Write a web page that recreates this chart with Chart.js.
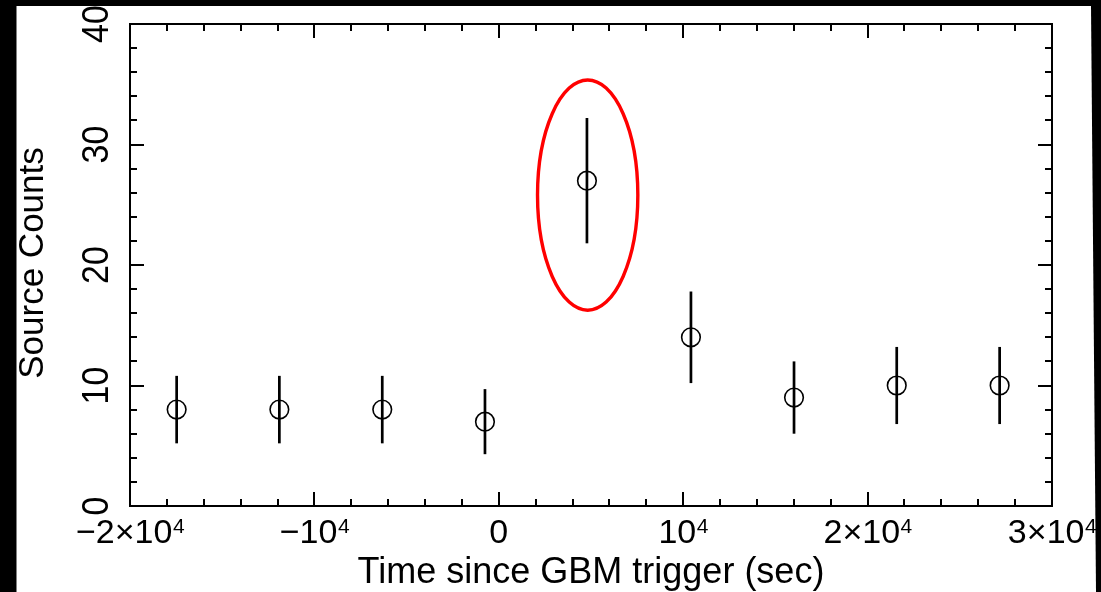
<!DOCTYPE html>
<html>
<head>
<meta charset="utf-8">
<title>Source Counts vs time</title>
<script src="https://cdn.jsdelivr.net/npm/chart.js@4/dist/chart.umd.min.js"></script>
<style>
  html, body { margin: 0; padding: 0; background: #000; }
  #wrap { width: 1101px; height: 592px; }
</style>
</head>
<body>
<div id="wrap"><canvas id="countsChart" width="1101" height="592"></canvas></div>
<script>
// data
const times = [-17470, -11900, -6320, -750, 4780, 10420, 16010, 21580, 27160];
const counts = [8, 8, 8, 7, 27, 14, 9, 10, 10];
const countErrors = [2.8, 2.8, 2.8, 2.7, 5.2, 3.8, 3.0, 3.2, 3.2];

// axes
const xMin = -20000, xMax = 30000, xMinorStep = 2000;
const yMin = 0, yMax = 40, yMinorStep = 2;
const xTicks = [-20000, -10000, 0, 10000, 20000, 30000];
const xTickLabels = [['\u22122\u00d710', '4'], ['\u221210', '4'], ['0', ''], ['10', '4'], ['2\u00d710', '4'], ['3\u00d710', '4']];
const yTicks = [0, 10, 20, 30, 40];
const yTickLabels = ['0', '10', '20', '30', '40'];
const xTitle = 'Time since GBM trigger (sec)';
const yTitle = 'Source Counts';

// red ellipse around the flare bin (data units)
const flareX = 4820, flareY = 25.8, flareHalfX = 2720, flareHalfY = 9.55;

const FONT = '"Liberation Sans", Arial, Helvetica, sans-serif';

const errorBarSets = times.map(function (t, i) {
    return {
        data: [{ x: t, y: counts[i] - countErrors[i] }, { x: t, y: counts[i] + countErrors[i] }],
        showLine: true,
        borderColor: '#000',
        borderWidth: 2.7,
        borderCapStyle: 'butt',
        pointRadius: 0,
        pointHoverRadius: 0
    };
});

const pointSet = {
    data: times.map(function (t, i) { return { x: t, y: counts[i] }; }),
    pointStyle: 'circle',
    pointRadius: 9.3,
    pointHoverRadius: 9.3,
    pointBorderWidth: 1.6,
    pointBorderColor: '#000',
    pointBackgroundColor: 'rgba(0,0,0,0)',
    showLine: false
};

const framePlugin = {
    id: 'frame',
    beforeDraw: function (chart) {
        const ctx = chart.ctx;
        ctx.save();
        ctx.fillStyle = '#000';
        ctx.fillRect(0, 0, chart.width, chart.height);
        ctx.fillStyle = '#fff';
        ctx.beginPath();
        ctx.moveTo(16.5, 6);
        ctx.lineTo(1091, 6);
        ctx.lineTo(1096, 592);
        ctx.lineTo(16.5, 592);
        ctx.closePath();
        ctx.fill();
        ctx.restore();
    },
    afterDatasetsDraw: function (chart) {
        const ctx = chart.ctx;
        const xs = chart.scales.x, ys = chart.scales.y;
        const cx = xs.getPixelForValue(flareX), cy = ys.getPixelForValue(flareY);
        const rx = Math.abs(xs.getPixelForValue(flareX + flareHalfX) - cx);
        const ry = Math.abs(ys.getPixelForValue(flareY + flareHalfY) - cy);
        ctx.save();
        ctx.strokeStyle = '#ff0000';
        ctx.lineWidth = 3.4;
        ctx.beginPath();
        ctx.ellipse(cx, cy, rx, ry, 0, 0, Math.PI * 2);
        ctx.stroke();
        ctx.restore();
    },
    afterDraw: function (chart) {
        const ctx = chart.ctx;
        const a = chart.chartArea;
        const xs = chart.scales.x, ys = chart.scales.y;
        ctx.save();
        ctx.strokeStyle = '#000';
        ctx.lineWidth = 2;
        ctx.strokeRect(a.left, a.top, a.right - a.left, a.bottom - a.top);

        // inward ticks on all four sides
        ctx.beginPath();
        for (let v = xMin; v <= xMax; v += xMinorStep) {
            const px = Math.round(xs.getPixelForValue(v));
            const len = v % 10000 === 0 ? 14 : 7;
            ctx.moveTo(px, a.bottom); ctx.lineTo(px, a.bottom - len);
            ctx.moveTo(px, a.top); ctx.lineTo(px, a.top + len);
        }
        for (let v = yMin; v <= yMax; v += yMinorStep) {
            const py = Math.round(ys.getPixelForValue(v));
            const len = v % 10 === 0 ? 14 : 7;
            ctx.moveTo(a.left, py); ctx.lineTo(a.left + len, py);
            ctx.moveTo(a.right, py); ctx.lineTo(a.right - len, py);
        }
        ctx.stroke();

        ctx.fillStyle = '#000';
        ctx.textBaseline = 'alphabetic';

        // x tick labels with superscript exponent
        xTicks.forEach(function (v, i) {
            const px = xs.getPixelForValue(v);
            const base = xTickLabels[i][0], sup = xTickLabels[i][1];
            ctx.font = '34px ' + FONT;
            const w1 = ctx.measureText(base).width;
            ctx.font = '21px ' + FONT;
            const w2 = sup ? ctx.measureText(sup).width : 0;
            const x0 = px - (w1 + w2) / 2;
            ctx.textAlign = 'left';
            ctx.font = '34px ' + FONT;
            ctx.fillText(base, x0, 543);
            if (sup) {
                ctx.font = '21px ' + FONT;
                ctx.fillText(sup, x0 + w1 + 0.5, 533);
            }
        });

        // y tick labels, rotated
        ctx.font = '34px ' + FONT;
        ctx.textAlign = 'center';
        yTicks.forEach(function (v, i) {
            const py = ys.getPixelForValue(v);
            ctx.save();
            ctx.translate(108, py);
            ctx.scale(1.1, 1);
            ctx.rotate(-Math.PI / 2);
            ctx.fillText(yTickLabels[i], 0, 0);
            ctx.restore();
        });

        // axis titles
        ctx.font = '36px ' + FONT;
        ctx.textAlign = 'center';
        ctx.fillText(xTitle, (a.left + a.right) / 2, 583);
        ctx.save();
        ctx.translate(43, (a.top + a.bottom) / 2 - 2);
        ctx.rotate(-Math.PI / 2);
        ctx.font = '35px ' + FONT;
        ctx.fillText(yTitle, 0, 0);
        ctx.restore();
        ctx.restore();
    }
};

const ctx = document.getElementById('countsChart').getContext('2d');
const countsChart = new Chart(ctx, {
    type: 'scatter',
    data: {
        datasets: [pointSet].concat(errorBarSets)
    },
    options: {
        responsive: false,
        devicePixelRatio: 1,
        animation: false,
        events: [],
        layout: {
            padding: { left: 130, top: 24, right: 49, bottom: 86 }
        },
        plugins: {
            legend: { display: false },
            tooltip: { enabled: false }
        },
        scales: {
            x: { type: 'linear', min: xMin, max: xMax, display: false },
            y: { type: 'linear', min: yMin, max: yMax, display: false }
        }
    },
    plugins: [framePlugin]
});
</script>
</body>
</html>
